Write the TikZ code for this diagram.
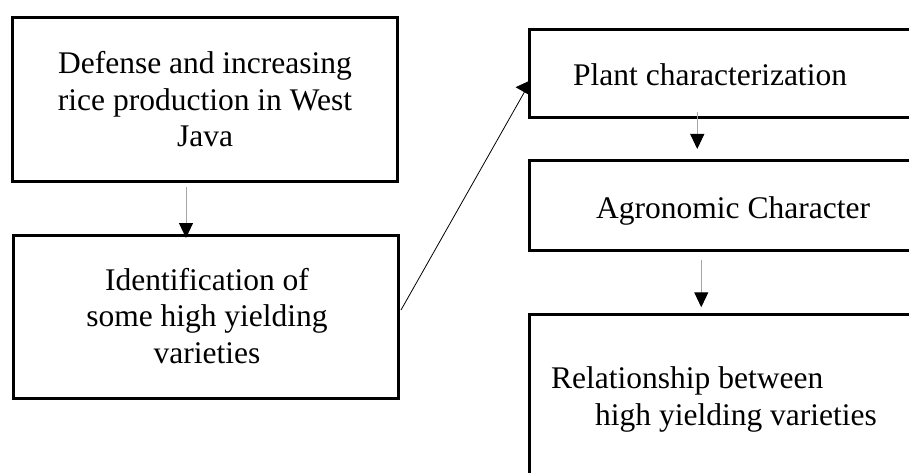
\documentclass[tikz,border=0pt]{standalone}
\usepackage{fontspec}
\setmainfont{Liberation Serif}
\usepackage{tikz}
\usetikzlibrary{shapes,arrows.meta,backgrounds}
\tikzstyle{arrow} = [draw=gray!70, line width=1pt, -{Triangle[length=15pt, width=14pt, color=black]}]
\tikzstyle{box} = [rectangle, draw=black, line width=3pt, fill=white, inner sep=0pt]
\tikzstyle{boxtext} = [font=\fontsize{31.5}{36.5}\selectfont, inner sep=0pt]

\begin{document}
\begin{tikzpicture}[x=1pt, y=-1pt]
    \useasboundingbox (0,0) rectangle (909,473);
    \clip (0,0) rectangle (909,473);

        \node (defense) [box, minimum width=385pt, minimum height=164pt] at (205,99.5) {};
        \node (identify) [box, minimum width=385pt, minimum height=163pt] at (206,317) {};

        \node (plant) [box, minimum width=390pt, minimum height=88pt] at (724.75,73.5) {};
        \node (agro) [box, minimum width=390pt, minimum height=90pt] at (724.75,205.5) {};
        \node (relation) [box, minimum width=390pt, minimum height=175pt] at (724.75,402.25) {};

        \node (defenset) [boxtext, anchor=base, align=center] at (205,147) {Defense and increasing\\rice production in West\\Java};
        \node (identifyt) [boxtext, anchor=base, align=center] at (207,363) {Identification of\\some high yielding\\varieties};
        \node (plantt) [boxtext, anchor=base west] at (573,86) {Plant characterization};
        \node (agrot) [boxtext, anchor=base west] at (596,218) {Agronomic Character};
        \node (relationt) [boxtext, anchor=base west, align=left] at (551,425) {Relationship between\\\hspace*{44pt}high yielding varieties};

        \draw [arrow] ([xshift=-19pt, yshift=-4pt]defense.south) -- ([xshift=-20pt, yshift=-4pt]identify.north);
        \draw [arrow] ([xshift=169pt, yshift=7pt]plant.south west) -- ([xshift=169pt, yshift=10pt]agro.north west);
        \draw [arrow] ([xshift=173pt, yshift=-8pt]agro.south west) -- ([xshift=173pt, yshift=6pt]relation.north west);

        \begin{pgfonlayer}{background}
        \draw [line width=0.8pt, -{Triangle[length=14pt, width=20pt]}] ([xshift=1pt, yshift=7pt]identify.east) -- ([xshift=3pt, yshift=-6.5pt]plant.west);
        \end{pgfonlayer}

\end{tikzpicture}
\end{document}
